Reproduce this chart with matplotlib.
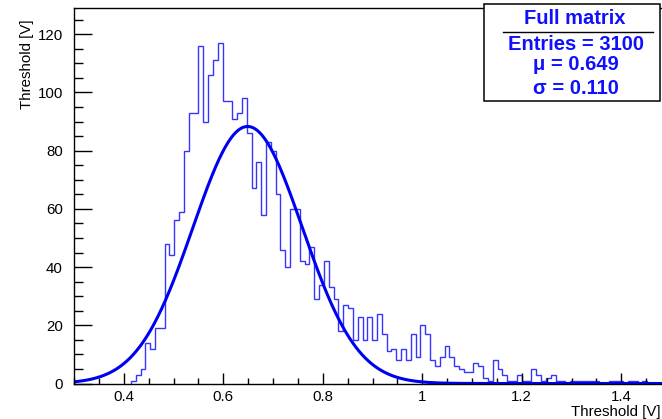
import numpy as np
import matplotlib
matplotlib.use("Agg")
import matplotlib.pyplot as plt
from matplotlib.patches import Rectangle
from matplotlib.lines import Line2D
from matplotlib.ticker import MultipleLocator, FuncFormatter

plt.rcParams['font.family'] = ['Liberation Sans', 'DejaVu Sans']

# threshold histogram, counts per bin, first bin starts at bin_start
bin_start = 0.4143
bin_width = 0.0097
counts = [1, 3, 5, 14, 12, 19, 19, 48, 44, 56, 59, 80,
          93, 93, 116, 90, 106, 111, 117, 97, 97, 91, 93, 98,
          86, 67, 76, 58, 83, 80, 65, 46, 40, 60, 60, 42,
          41, 47, 29, 34, 42, 33, 29, 18, 27, 26, 15, 23,
          15, 23, 15, 24, 17, 11, 12, 8, 12, 8, 17, 9,
          20, 17, 8, 6, 9, 13, 9, 6, 5, 4, 4, 7,
          6, 2, 1, 8, 5, 3, 1, 1, 3, 1, 1, 5,
          3, 1, 2, 3, 1, 1, 0, 1, 1, 1, 1, 1,
          1, 0, 0, 1, 1, 1, 0, 1, 1, 0, 1, 0,
          0, 0]

# gaussian fit result
fit_mu = 0.649
fit_sigma = 0.110
fit_const = 88.3

stats_title = "Full matrix"
stats_lines = ["Entries = 3100", "\u03bc = 0.649", "\u03c3 = 0.110"]

W, H = 662, 419
fig = plt.figure(figsize=(W / 100, H / 100), dpi=100)
ax = fig.add_axes([74 / W, 1 - 383.5 / H, 597 / W, 375.5 / H])

edges = bin_start + bin_width * np.arange(len(counts) + 1)
ax.stairs(counts, edges, color='#3535ff', lw=1.0)

xs = np.linspace(0.3, 1.5, 600)
ax.plot(xs, fit_const * np.exp(-0.5 * ((xs - fit_mu) / fit_sigma) ** 2),
        color='#0000f0', lw=2.2)

ax.set_xlim(0.3, 1.5)
ax.set_ylim(0, 129)

ax.xaxis.set_major_locator(MultipleLocator(0.2))
ax.xaxis.set_minor_locator(MultipleLocator(0.05))
ax.yaxis.set_major_locator(MultipleLocator(20))
ax.yaxis.set_minor_locator(MultipleLocator(5))
ax.xaxis.set_major_formatter(FuncFormatter(lambda v, p: '%g' % round(v, 2)))
ax.tick_params(axis='both', which='both', direction='in', top=False, right=False,
               labelsize=10.8, width=1)
ax.tick_params(axis='x', which='major', length=8, pad=5)
ax.tick_params(axis='x', which='minor', length=4)
ax.tick_params(axis='y', which='major', length=13, pad=8)
ax.tick_params(axis='y', which='minor', length=6.5)
for s in ax.spines.values():
    s.set_linewidth(1)

fig.text(661 / W, 3 / H, "Threshold [V]", ha='right', va='baseline', fontsize=10.8)
fig.text(27 / W, 1 - 19 / H, "Threshold [V]", ha='center', va='top',
         rotation=90, fontsize=10.8)

# stats box
box = Rectangle((484 / W, 1 - 101 / H), 176 / W, 97 / H, transform=fig.transFigure,
                facecolor='white', edgecolor='black', lw=1.1)
fig.add_artist(box)
fig.add_artist(Line2D([503 / W, 653 / W], [1 - 31.5 / H] * 2,
                      transform=fig.transFigure, color='black', lw=1))
fig.text(575 / W, 1 - 18 / H, stats_title, ha='center', va='center',
         fontsize=14.5, fontweight='bold', color='#1010ff')
for txt, ypix in zip(stats_lines, [44, 65, 89]):
    fig.text(576 / W, 1 - ypix / H, txt, ha='center', va='center',
             fontsize=14.5, fontweight='bold', color='#1010ff')

fig.savefig('out.png', dpi=100)
